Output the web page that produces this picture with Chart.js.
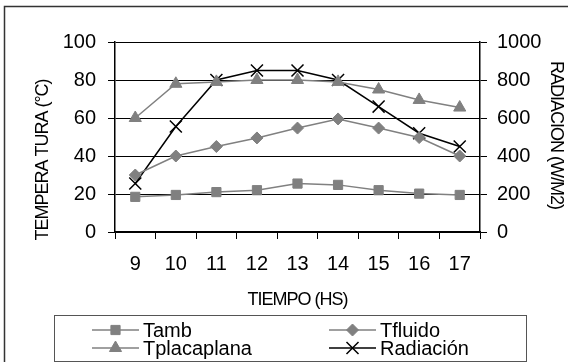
<!DOCTYPE html>
<html>
<head>
<meta charset="utf-8">
<script src="https://cdn.jsdelivr.net/npm/chart.js@4.4.1/dist/chart.umd.min.js"></script>
<style>
  html, body { margin: 0; padding: 0; background: #fff; }
</style>
</head>
<body>
<canvas id="grafico" width="568" height="362"></canvas>
<script>
// Datos
const horas = ["9", "10", "11", "12", "13", "14", "15", "16", "17"];
const tamb = [18.5, 19.5, 21, 22, 25.5, 24.8, 22, 20.2, 19.5];
const tfluido = [30, 40, 45, 49.5, 54.7, 59.5, 54.7, 49.7, 40];
const tplaca = [60, 78, 79, 80, 80, 79, 75, 69.5, 65.5];
const radiacion = [255, 555, 800, 850, 850, 800, 660, 520, 450];

const ticksTemp = [0, 20, 40, 60, 80, 100];
const ticksRad = [0, 200, 400, 600, 800, 1000];

const GRIS = "#808080";
const FUENTE = "'Liberation Sans', Arial, sans-serif";

// fondo blanco y marco exterior
const fondo = {
  id: "fondo",
  beforeDraw(chart) {
    const c = chart.ctx;
    c.save();
    c.fillStyle = "#fff";
    c.fillRect(0, 0, chart.width, chart.height);
    c.strokeStyle = "#333";
    c.lineWidth = 1.5;
    c.strokeRect(4.5, 6.5, 600, 400);
    c.restore();
  }
};

// títulos de ejes (texto un poco comprimido como en el original)
const titulos = {
  id: "titulos",
  afterDraw(chart) {
    const c = chart.ctx;
    const a = chart.chartArea;
    c.save();
    c.fillStyle = "#000";
    c.font = "18px " + FUENTE;
    c.letterSpacing = "-1px";
    c.textAlign = "center";
    c.textBaseline = "middle";
    c.fillText("TIEMPO (HS)", (a.left + a.right) / 2, 300);

    c.save();
    c.translate(43, 160);
    c.rotate(-Math.PI / 2);
    c.fillText("TEMPERA TURA (°C)", 0, 0);
    c.restore();

    c.save();
    c.translate(556, 135);
    c.rotate(Math.PI / 2);
    c.fillText("RADIACION (W/M2)", 0, 0);
    c.restore();
    c.restore();
  }
};

// leyenda en dos columnas dentro de un recuadro
const leyenda = {
  id: "leyenda",
  afterDraw(chart) {
    const c = chart.ctx;
    c.save();
    c.strokeStyle = "#555";
    c.lineWidth = 1;
    c.strokeRect(54.5, 315.5, 472, 46);

    const pos = [
      { x: 92, y: 330 },   // Tamb
      { x: 329, y: 330 },  // Tfluido
      { x: 92, y: 348 },   // Tplacaplana
      { x: 329, y: 348 }   // Radiación
    ];
    chart.data.datasets.forEach((ds, i) => {
      const p = pos[i];
      c.strokeStyle = ds.borderColor;
      c.lineWidth = ds.borderWidth;
      c.beginPath();
      c.moveTo(p.x, p.y);
      c.lineTo(p.x + 47, p.y);
      c.stroke();
      c.fillStyle = ds.pointBackgroundColor;
      c.strokeStyle = ds.pointBorderColor;
      c.lineWidth = ds.pointBorderWidth;
      Chart.helpers.drawPoint(c, {
        pointStyle: ds.pointStyle,
        radius: ds.pointRadius,
        rotation: 0,
        borderWidth: ds.pointBorderWidth
      }, p.x + 23.5, p.y);
      c.fillStyle = "#000";
      c.font = "20px " + FUENTE;
      c.textAlign = "left";
      c.textBaseline = "middle";
      c.fillText(ds.label, p.x + 51, p.y + 1);
    });
    c.restore();
  }
};

function serie(label, data, color, estilo, radio, eje) {
  return {
    label: label,
    data: data,
    yAxisID: eje,
    borderColor: color,
    borderWidth: 1.5,
    backgroundColor: color,
    pointStyle: estilo,
    pointRadius: radio,
    pointHoverRadius: radio,
    pointBackgroundColor: color,
    pointBorderColor: color,
    pointBorderWidth: estilo === "crossRot" ? 1.5 : 1,
    tension: 0,
    fill: false
  };
}

new Chart(document.getElementById("grafico"), {
  type: "line",
  data: {
    labels: horas,
    datasets: [
      serie("Tamb", tamb, GRIS, "rect", 6.5, "y"),
      serie("Tfluido", tfluido, GRIS, "rectRot", 6, "y"),
      serie("Tplacaplana", tplaca, GRIS, "triangle", 7, "y"),
      serie("Radiación", radiacion, "#000", "crossRot", 8.5, "y2")
    ]
  },
  options: {
    responsive: false,
    animation: false,
    layout: { padding: { top: 42, left: 0, right: 0, bottom: 0 } },
    plugins: {
      legend: { display: false },
      tooltip: { enabled: false }
    },
    scales: {
      x: {
        offset: true,
        afterFit(s) { s.height = 130; },
        grid: {
          offset: true,
          drawOnChartArea: false,
          drawTicks: true,
          tickLength: 7,
          color: "#000",
          lineWidth: 1
        },
        border: { display: true, color: "#000", width: 1.5 },
        ticks: {
          color: "#000",
          padding: 13,
          maxRotation: 0,
          font: { family: FUENTE, size: 20 }
        }
      },
      y: {
        position: "left",
        min: 0,
        max: 100,
        afterFit(s) { s.width = 115; },
        afterBuildTicks(s) { s.ticks = ticksTemp.map(v => ({ value: v })); },
        grid: {
          color: "#000",
          lineWidth: 1,
          tickLength: 7,
          drawTicks: true
        },
        border: { display: true, color: "#000", width: 1.5 },
        ticks: {
          color: "#000",
          padding: 12,
          callback: v => String(v),
          font: { family: FUENTE, size: 20 }
        }
      },
      y2: {
        position: "right",
        min: 0,
        max: 1000,
        afterFit(s) { s.width = 88; },
        afterBuildTicks(s) { s.ticks = ticksRad.map(v => ({ value: v })); },
        grid: {
          drawOnChartArea: false,
          color: "#000",
          lineWidth: 1,
          tickLength: 7,
          drawTicks: true
        },
        border: { display: true, color: "#000", width: 1.5 },
        ticks: {
          color: "#000",
          padding: 10,
          callback: v => String(v),
          font: { family: FUENTE, size: 20 }
        }
      }
    }
  },
  plugins: [fondo, titulos, leyenda]
});
</script>
</body>
</html>
